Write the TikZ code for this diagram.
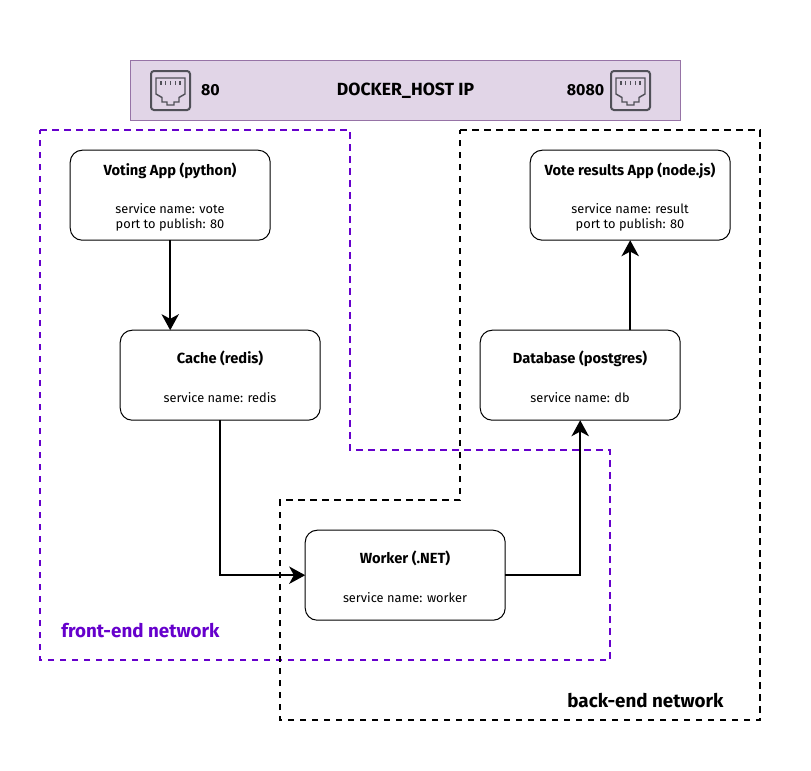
\documentclass[tikz,border=0pt]{standalone}
\usepackage{fontspec}
\setmainfont{Fira Sans}
\usetikzlibrary{arrows.meta}
\definecolor{hostfill}{HTML}{E1D5E7}
\definecolor{hostline}{HTML}{9673A6}
\definecolor{frontnet}{HTML}{6600CC}
\definecolor{iconcol}{HTML}{505058}
\newcommand{\porticon}[1]{%
  \begin{scope}[shift={(#1)}]
    \draw[iconcol,line width=1.5pt,rounded corners=2.2pt] (0,0) rectangle (39,39);
    \draw[iconcol,line width=1.1pt] (5,7) -- (34,7) -- (34,23) -- (28,26.5) -- (28,31) -- (23,31) -- (23,34) -- (16,34) -- (16,31) -- (11,31) -- (11,26.5) -- (5,23) -- cycle;
    \foreach \tx in {10,14.75,19.5,24.25,29}
      \draw[iconcol,line width=1pt] (\tx,10) -- (\tx,14);
  \end{scope}}
\tikzset{
  x=0.75pt,y=-0.75pt,
  every node/.style={font=\fontsize{9.6}{12}\selectfont,text=black},
  svc/.style={draw=black,line width=0.75pt,fill=white,rounded corners=9pt,minimum width=150pt,minimum height=67.5pt,inner sep=0pt,outer sep=0pt,anchor=north west},
  titletext/.style={font=\fontsize{11}{12}\selectfont\bfseries},
  bigtext/.style={font=\fontsize{13.2}{12}\selectfont\bfseries},
  numtext/.style={font=\fontsize{12}{12}\selectfont\bfseries},
  netlabel/.style={font=\fontsize{14.1}{12}\selectfont\bfseries},
  flow/.style={draw=black,line width=1.5pt,-{Stealth[length=12pt,width=13pt,inset=3.5pt]}},
  netline/.style={line width=1.5pt,dash pattern=on 5pt off 4pt}
}
\begin{document}
\begin{tikzpicture}
\useasboundingbox (0,0) rectangle (811,771);
\node[draw=hostline,fill=hostfill,line width=0.75pt,minimum width=412.5pt,minimum height=45pt,inner sep=0pt,anchor=north west] (host) at (130,60) {};
\porticon{151,71}
\porticon{611,71}
\node[numtext] (p80) at (210.5,90.5) {80};
\node[bigtext] (hostip) at (405.5,90.5) {DOCKER\_HOST IP};
\node[numtext] (p8080) at (585.5,90.5) {8080};

\draw[netline,frontnet] (40.2,130.2) -- (350.2,130.2) -- (350.2,450.2) -- (610.2,450.2) -- (610.2,660.2) -- (40.2,660.2) -- cycle;
\draw[netline,black] (460.2,130.2) -- (760.2,130.2) -- (760.2,720.2) -- (280.2,720.2) -- (280.2,500.2) -- (460.2,500.2) -- cycle;

\node[svc] (vote) at (70.2,150.2) {};
\node[svc] (result) at (530.2,150.2) {};
\node[svc] (cache) at (120.2,330.2) {};
\node[svc] (db) at (480.2,330.2) {};
\node[svc] (worker) at (305.2,530.2) {};

\node[titletext] (t1) at (170,170.7) {Voting App (python)};
\node (s1) at (170,208.5) {service name: vote};
\node (q1) at (170,224.5) {port to publish: 80};
\node[titletext] (t2) at (630,170.7) {Vote results App (node.js)};
\node (s2) at (630,208.5) {service name: result};
\node (q2) at (630,224.5) {port to publish: 80};
\node[titletext] (t3) at (220,358.7) {Cache (redis)};
\node (s3) at (220,397.5) {service name: redis};
\node[titletext] (t4) at (580,358.7) {Database (postgres)};
\node (s4) at (580,397.5) {service name: db};
\node[titletext] (t5) at (405,558.7) {Worker (.NET)};
\node (s5) at (405,597.5) {service name: worker};

\draw[flow] (vote.south) -- (vote.south |- cache.north);
\draw[flow] (cache.south) |- (worker.west);
\draw[flow] (worker.east) -| (db.south);
\draw[flow] (result.south |- db.north) -- (result.south);

\node[netlabel,text=frontnet] (fe) at (140.5,631) {front-end network};
\node[netlabel] (be) at (645.5,701) {back-end network};
\end{tikzpicture}
\end{document}
